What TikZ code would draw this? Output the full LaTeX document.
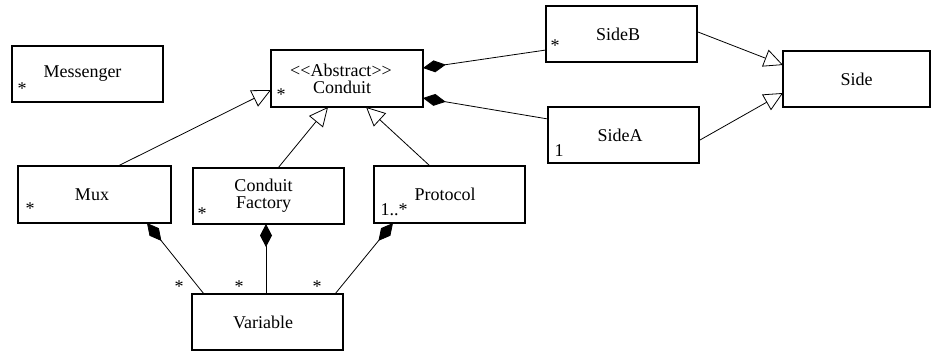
\documentclass[tikz,border=0pt]{standalone}
\usepackage{fontspec}
\setmainfont[Ligatures=NoCommon]{Liberation Serif}
\usetikzlibrary{arrows.meta,calc}
\begin{document}
\begin{tikzpicture}[x=1pt,y=-1pt,
  cls/.style={draw,line width=1.6pt,fill=white,outer sep=0pt,inner sep=0pt,
    minimum width=151pt,minimum height=56pt,align=center,
    font=\fontsize{18}{17}\selectfont},
  mult/.style={anchor=base,inner sep=0pt,font=\fontsize{18}{20}\selectfont},
  link/.style={line width=0.8pt},
  inherit/.style={link,-{Triangle[open,length=19pt,width=18pt,fill=white]}},
  owns/.style={link,-{Diamond[length=23pt,width=12pt]}}]
\useasboundingbox (0,0) rectangle (931,353);

% classes
\node[cls] (messenger) at (87.5,74) {\kern-10pt Messenger};
\node[cls,minimum width=152pt,minimum height=57pt] (conduit) at (347,78.5)
  {\kern-12pt{<}{<}Abstract{>}{>}\\\kern-10pt Conduit};
\node[cls] (sideb) at (621.5,34) {\kern-7pt SideB};
\node[cls] (sidea) at (623.5,135) {\kern-7pt SideA};
\node[cls,minimum width=147pt] (side) at (856.5,79) {Side};
\node[cls,minimum width=153pt,minimum height=57pt] (mux) at (94.5,194.5) {\kern-5pt Mux};
\node[cls] (cf) at (268.5,196) {\kern-10pt Conduit\\\kern-10pt Factory};
\node[cls,minimum height=57pt] (proto) at (449.5,194.5) {\kern-9pt Protocol};
\node[cls] (var) at (267.5,322) {\kern-9pt Variable};

% multiplicities
\node[mult] (mmes) at (22,94) {*};
\node[mult] (mcon) at (281,100) {*};
\node[mult] (msdb) at (555,52) {*};
\node[mult] (msda) at (559,156) {1};
\node[mult] (mmux) at (30,214) {*};
\node[mult] (mcf) at (202,219) {*};
\node[mult] (mpro) at (394,215) {1..*};
\node[mult] (mv1) at (179,292) {*};
\node[mult] (mv2) at (239,292) {*};
\node[mult] (mv3) at (317,292) {*};

% generalizations
\draw[inherit] ($(mux.north west)+(100,0)$) -- ($(conduit.north west)+(0,40)$);
\draw[inherit] ($(cf.north west)+(85,0)$) -- ($(conduit.south west)+(57,0)$);
\draw[inherit] ($(proto.north west)+(56,0)$) -- ($(conduit.south west)+(95,0)$);
\draw[inherit] ($(sideb.north east)+(1,26)$) -- ($(side.north west)+(0,14)$);
\draw[inherit] ($(sidea.north east)+(1,33)$) -- ($(side.north west)+(0,42)$);

% compositions
\draw[owns] ($(sideb.north west)+(0,44)$) -- ($(conduit.north east)+(0,18)$);
\draw[owns] ($(sidea.north west)+(0,12)$) -- ($(conduit.north east)+(0,48)$);
\draw[owns] ($(var.north west)+(12,0)$) -- ($(mux.south west)+(129,0)$);
\draw[owns] ($(var.north west)+(74,0)$) -- ($(cf.south west)+(73,0)$);
\draw[owns] ($(var.north west)+(143,0)$) -- ($(proto.south west)+(19,0)$);
\end{tikzpicture}
\end{document}
